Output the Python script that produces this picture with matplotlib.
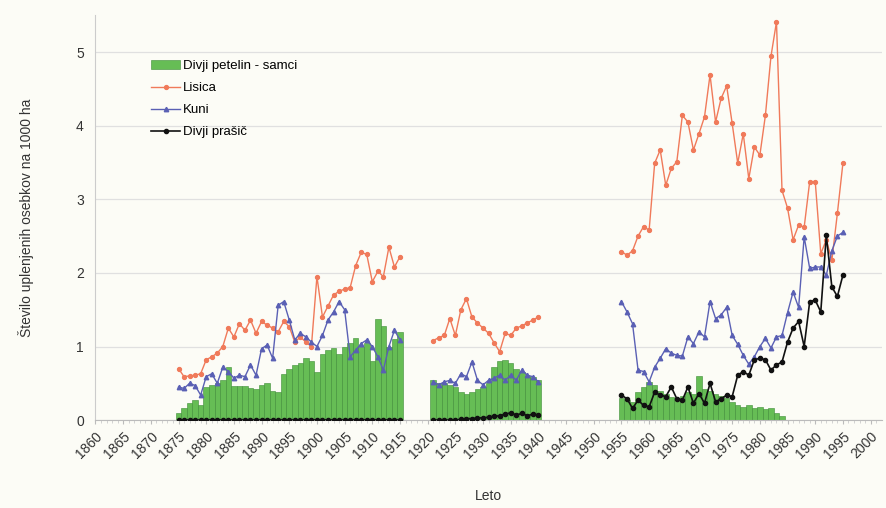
import numpy as np
import matplotlib.pyplot as plt

plt.rcParams['font.family'] = ['Liberation Sans', 'DejaVu Sans']

# period 1: 1875-1915
years_1 = np.arange(1875, 1916)
petelin_1 = [0.10, 0.17, 0.23, 0.28, 0.20, 0.45, 0.48, 0.50, 0.55, 0.72,
             0.47, 0.46, 0.46, 0.44, 0.42, 0.48, 0.50, 0.40, 0.38, 0.62,
             0.70, 0.75, 0.78, 0.85, 0.80, 0.65, 0.90, 0.95, 0.98, 0.90,
             1.00, 1.05, 1.12, 1.00, 1.05, 0.80, 1.38, 1.28, 1.00, 1.10, 1.20]
lisica_1 = [0.70, 0.59, 0.60, 0.61, 0.63, 0.82, 0.86, 0.91, 1.00, 1.25,
            1.13, 1.31, 1.22, 1.36, 1.18, 1.34, 1.29, 1.25, 1.20, 1.34,
            1.27, 1.06, 1.13, 1.06, 1.00, 1.95, 1.40, 1.55, 1.70, 1.75,
            1.78, 1.80, 2.10, 2.28, 2.25, 1.88, 2.02, 1.95, 2.35, 2.08, 2.22]
kuni_1 = [0.45, 0.43, 0.50, 0.47, 0.34, 0.59, 0.63, 0.50, 0.72, 0.66,
          0.57, 0.61, 0.59, 0.75, 0.61, 0.97, 1.02, 0.84, 1.56, 1.61,
          1.36, 1.09, 1.18, 1.13, 1.06, 1.00, 1.15, 1.36, 1.47, 1.61,
          1.50, 0.86, 0.95, 1.04, 1.09, 1.00, 0.86, 0.68, 1.00, 1.22, 1.09]
prasic_1 = [0.0] * 41

# period 2: 1921-1940
years_2 = np.arange(1921, 1941)
petelin_2 = [0.55, 0.50, 0.50, 0.48, 0.45, 0.38, 0.36, 0.38, 0.42, 0.45,
             0.50, 0.72, 0.80, 0.82, 0.78, 0.70, 0.65, 0.60, 0.58, 0.55]
lisica_2 = [1.08, 1.12, 1.15, 1.38, 1.15, 1.50, 1.65, 1.40, 1.32, 1.25,
            1.18, 1.05, 0.93, 1.18, 1.15, 1.25, 1.28, 1.32, 1.36, 1.40]
kuni_2 = [0.52, 0.48, 0.52, 0.54, 0.50, 0.63, 0.59, 0.79, 0.54, 0.48,
          0.54, 0.57, 0.61, 0.54, 0.61, 0.54, 0.68, 0.61, 0.59, 0.52]
prasic_2 = [0.0, 0.0, 0.0, 0.0, 0.0, 0.01, 0.02, 0.02, 0.03, 0.03,
            0.04, 0.05, 0.06, 0.08, 0.10, 0.07, 0.09, 0.06, 0.08, 0.07]

# period 3: 1955-1995 (grouse only until 1984)
years_3 = np.arange(1955, 1996)
years_3b = np.arange(1955, 1985)
petelin_3 = [0.30, 0.28, 0.25, 0.38, 0.45, 0.52, 0.48, 0.40, 0.35, 0.32,
             0.30, 0.33, 0.38, 0.35, 0.60, 0.42, 0.40, 0.35, 0.33, 0.30,
             0.25, 0.20, 0.18, 0.20, 0.17, 0.18, 0.15, 0.16, 0.10, 0.06]
lisica_3 = [2.29, 2.24, 2.30, 2.50, 2.63, 2.58, 3.49, 3.67, 3.19, 3.42,
            3.51, 4.14, 4.05, 3.67, 3.89, 4.12, 4.69, 4.05, 4.37, 4.54,
            4.03, 3.49, 3.89, 3.28, 3.71, 3.60, 4.14, 4.94, 5.41, 3.12,
            2.88, 2.45, 2.65, 2.62, 3.24, 3.24, 2.26, 2.45, 2.17, 2.81, 3.49]
kuni_3 = [1.61, 1.47, 1.31, 0.68, 0.66, 0.52, 0.72, 0.84, 0.97, 0.91,
          0.88, 0.87, 1.13, 1.04, 1.20, 1.13, 1.61, 1.38, 1.43, 1.53,
          1.15, 1.03, 0.88, 0.76, 0.86, 1.00, 1.11, 0.98, 1.13, 1.15,
          1.46, 1.74, 1.53, 2.49, 2.06, 2.08, 2.08, 1.97, 2.30, 2.50, 2.55]
prasic_3 = [0.34, 0.29, 0.16, 0.27, 0.20, 0.18, 0.38, 0.34, 0.32, 0.45,
            0.29, 0.27, 0.45, 0.23, 0.36, 0.23, 0.50, 0.25, 0.29, 0.34,
            0.32, 0.61, 0.66, 0.61, 0.82, 0.84, 0.82, 0.68, 0.75, 0.79,
            1.06, 1.25, 1.34, 1.00, 1.61, 1.63, 1.47, 2.51, 1.81, 1.68, 1.97]

bg = '#fcfcf6'
green = '#66bd55'
green_edge = '#3e8c36'
c_lisica = '#f07a5a'
c_kuni = '#5a60b4'
c_prasic = '#111111'

fig = plt.figure(figsize=(8.87, 5.08), dpi=100, facecolor=bg)
ax = fig.add_axes([0.107, 0.173, 0.887, 0.797], facecolor=bg)

handles = {}
for yrs, vals in [(years_1, petelin_1), (years_2, petelin_2), (years_3b, petelin_3)]:
    b = ax.bar(yrs, vals, width=1.0, color=green, edgecolor=green_edge,
               linewidth=0.4, zorder=2)
    handles['Divji petelin - samci'] = b

blocks = [(years_1, lisica_1, kuni_1, prasic_1),
          (years_2, lisica_2, kuni_2, prasic_2),
          (years_3, lisica_3, kuni_3, prasic_3)]
for yrs, lis, kun, pra in blocks:
    handles['Lisica'], = ax.plot(yrs, lis, color=c_lisica, lw=1.0, marker='o',
                                 ms=2.8, zorder=3)
    handles['Kuni'], = ax.plot(yrs, kun, color=c_kuni, lw=1.0, marker='^',
                               ms=3.2, zorder=3)
    handles['Divji prašič'], = ax.plot(yrs, pra, color=c_prasic, lw=1.2,
                                       marker='o', ms=3.0, zorder=4)

ax.set_xlim(1859.9, 2002)
ax.set_ylim(0, 5.5)
ax.set_xticks(np.arange(1860, 2001, 5))
ax.set_xticks(np.arange(1860, 2002, 1), minor=True)
ax.set_yticks([0, 1, 2, 3, 4, 5])
ax.tick_params(axis='x', labelrotation=45, labelsize=10, colors='#333333',
               length=3, color='#bbbbbb')
ax.tick_params(axis='x', which='minor', length=2, color='#cccccc')
ax.tick_params(axis='y', length=0, labelsize=10, colors='#333333', pad=8)
for lbl in ax.get_xticklabels():
    lbl.set_ha('right')
    lbl.set_rotation_mode('anchor')

ax.yaxis.grid(True, color='#e0e0e0', lw=0.9, zorder=0)
ax.set_axisbelow(True)
for s in ['top', 'right']:
    ax.spines[s].set_visible(False)
ax.spines['left'].set_color('#cccccc')
ax.spines['bottom'].set_color('#bbbbbb')

ax.set_xlabel('Leto', fontsize=10, color='#333333', labelpad=20)
ax.set_ylabel('Število uplenjenih osebkov na 1000 ha', fontsize=10,
              color='#333333', labelpad=30)

order = ['Divji petelin - samci', 'Lisica', 'Kuni', 'Divji prašič']
ax.legend([handles[k] for k in order], order, loc='upper left',
          bbox_to_anchor=(0.065, 0.903), frameon=False, fontsize=9.5,
          handlelength=2.2, handletextpad=0.2, labelspacing=0.75,
          borderaxespad=0)

fig.savefig('out.png', dpi=100, facecolor=bg)
